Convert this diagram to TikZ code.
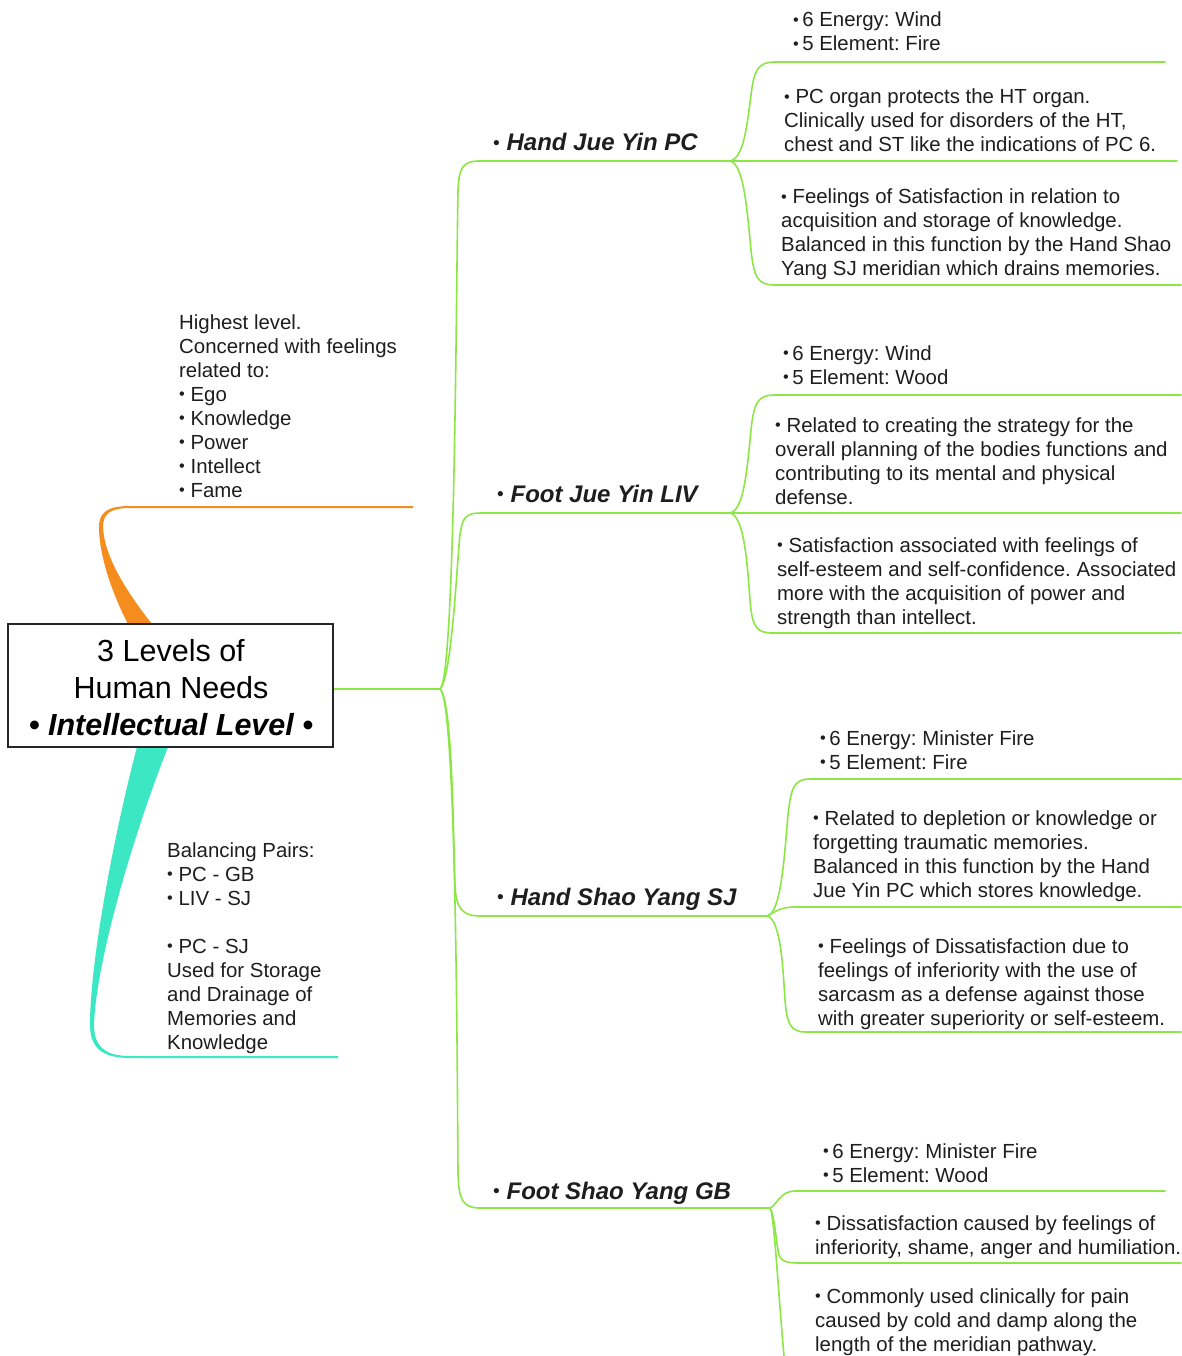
\documentclass[tikz,border=0pt]{standalone}
\usepackage{fontspec}
\usepackage{graphicx}
\setmainfont{Liberation Sans}
\frenchspacing
\definecolor{brgreen}{RGB}{140,230,70}
\definecolor{brorange}{RGB}{245,140,30}
\definecolor{brteal}{RGB}{60,232,195}
\definecolor{txt}{RGB}{30,30,30}
\newcommand{\mlines}[1]{\begin{tabular}[t]{@{}l@{}}#1\end{tabular}}
\newcommand{\clines}[1]{\begin{tabular}[t]{@{}c@{}}#1\end{tabular}}
\newcommand{\bul}{\raisebox{0.08em}{\scalebox{0.8}{•}}}
\begin{document}
\begin{tikzpicture}[x=1pt,y=-1pt,
  body/.style={anchor=base west, inner sep=0pt, text=txt, font=\fontsize{20.4}{24}\selectfont\frenchspacing},
  branchlabel/.style={anchor=base west, inner sep=0pt, text=txt, font=\fontsize{24}{28}\selectfont},
  gline/.style={draw=brgreen, line width=1.6pt, line cap=round},
  titlebox/.style={draw=black!85, line width=1.2pt, fill=white, minimum width=325pt, minimum height=123pt, inner sep=0pt},
  titletext/.style={anchor=base, inner sep=0pt, text=black, font=\fontsize{30.5}{37}\selectfont},
]
\useasboundingbox (0,0) rectangle (1181,1356);
\fill[white] (0,0) rectangle (1181,1356);

% ---------- coordinates ----------
\coordinate (hub) at (440,689);
\coordinate (boxR) at (333,689);
\coordinate (pcH) at (730,161);
\coordinate (livH) at (730,513);
\coordinate (sjH) at (767,916);
\coordinate (gbH) at (770,1208);
\coordinate (pcU) at (1165,62);
\coordinate (pcM) at (1177,161);
\coordinate (pcD) at (1181,285);
\coordinate (livU) at (1181,395);
\coordinate (livM) at (1181,513);
\coordinate (livD) at (1181,633);
\coordinate (sjU) at (1181,779);
\coordinate (sjM) at (1181,907);
\coordinate (sjD) at (1181,1032);
\coordinate (gbU) at (1165,1191);
\coordinate (gbM) at (1181,1263);
\coordinate (gbD) at (784,1356);

% ---------- coloured left branches ----------
\fill[brorange] (128,624) .. controls (108,585) and (99,550) .. (99,527)
  .. controls (99,512) and (108,506) .. (130,506) -- (413,506) -- (413,508) -- (130,508)
  .. controls (110,508) and (103,514) .. (103,527)
  .. controls (104,555) and (125,590) .. (152,624) -- cycle;
\fill[brteal] (137,747) .. controls (115,830) and (90,960) .. (90,1025)
  .. controls (90,1050) and (105,1058) .. (130,1058) -- (338,1058) -- (338,1056) -- (130,1056)
  .. controls (107,1056) and (94,1048) .. (94,1025)
  .. controls (96,960) and (135,830) .. (168,747) -- cycle;

% ---------- green trunk ----------
\draw[gline] (boxR) -- (hub);
\draw[gline] (hub) .. controls (455,678) and (456,300) .. (458,190) .. controls (459,167) and (463,161) .. (480,161) -- (pcH);
\draw[gline] (hub) .. controls (452,678) and (457,560) .. (460,535) .. controls (462,518) and (466,513) .. (480,513) -- (livH);
\draw[gline] (hub) .. controls (452,700) and (453,820) .. (455,885) .. controls (456,908) and (462,916) .. (480,916) -- (sjH);
\draw[gline] (hub) .. controls (455,700) and (457,1000) .. (458,1175) .. controls (459,1200) and (463,1208) .. (480,1208) -- (gbH);

% PC sub-branches
\draw[gline] (pcH) .. controls (744,158) and (747,125) .. (751,95) .. controls (754,70) and (758,62) .. (775,62) -- (pcU);
\draw[gline] (pcH) -- (pcM);
\draw[gline] (pcH) .. controls (744,164) and (747,210) .. (751,250) .. controls (754,278) and (758,285) .. (775,285) -- (pcD);
% LIV sub-branches
\draw[gline] (livH) .. controls (744,510) and (747,470) .. (751,430) .. controls (754,402) and (758,395) .. (775,395) -- (livU);
\draw[gline] (livH) -- (livM);
\draw[gline] (livH) .. controls (744,516) and (747,560) .. (750,600) .. controls (752,626) and (756,633) .. (772,633) -- (livD);
% SJ sub-branches
\draw[gline] (sjH) .. controls (781,913) and (784,860) .. (788,815) .. controls (791,786) and (795,779) .. (810,779) -- (sjU);
\draw[gline] (sjH) .. controls (775,912) and (780,907) .. (795,907) -- (sjM);
\draw[gline] (sjH) .. controls (781,919) and (783,970) .. (785,1000) .. controls (787,1025) and (791,1032) .. (806,1032) -- (sjD);
% GB sub-branches
\draw[gline] (gbH) .. controls (777,1205) and (780,1191) .. (795,1191) -- (gbU);
\draw[gline] (gbH) .. controls (774,1212) and (776,1240) .. (778,1250) .. controls (779,1260) and (784,1263) .. (798,1263) -- (gbM);
\draw[gline] (gbH) .. controls (774,1212) and (778,1290) .. (gbD);

% ---------- central box ----------
\node[titlebox] (box) at (170.5,685.5) {};
\node[titletext] (title) at (171,661) {\clines{3 Levels of\\Human Needs\\\textbf{\textit{• Intellectual Level •}}}};

% ---------- left texts ----------
\node[body] (highest) at (179,329) {\mlines{Highest level.\\Concerned with feelings\\related to:\\\bul\ Ego\\\bul\ Knowledge\\\bul\ Power\\\bul\ Intellect\\\bul\ Fame}};
\node[body] (pairs) at (167,857) {\mlines{Balancing Pairs:\\\bul\ PC - GB\\\bul\ LIV - SJ\\ \\\bul\ PC - SJ\\Used for Storage\\and Drainage of\\Memories and\\Knowledge}};

% ---------- branch labels ----------
\node[branchlabel] (pc) at (493,151) {\bul\ \textbf{\textit{Hand Jue Yin PC}}};
\node[branchlabel] (liv) at (497,502) {\bul\ \textbf{\textit{Foot Jue Yin LIV}}};
\node[branchlabel] (sj) at (497,905) {\bul\ \textbf{\textit{Hand Shao Yang SJ}}};
\node[branchlabel] (gb) at (493,1199) {\bul\ \textbf{\textit{Foot Shao Yang GB}}};

% ---------- PC texts ----------
\node[body] (pc1) at (793,27) {\mlines{\bul\,6 Energy: Wind\\\bul\,5 Element: Fire}};
\node[body] (pc2) at (784,104) {\mlines{\bul\ PC organ protects the HT organ.\\Clinically used for disorders of the HT,\\chest and ST like the indications of PC 6.}};
\node[body] (pc3) at (781,204) {\mlines{\bul\ Feelings of Satisfaction in relation to\\acquisition and storage of knowledge.\\Balanced in this function by the Hand Shao\\Yang SJ meridian which drains memories.}};

% ---------- LIV texts ----------
\node[body] (liv1) at (783,360) {\mlines{\bul\,6 Energy: Wind\\\bul\,5 Element: Wood}};
\node[body] (liv2) at (775,432) {\mlines{\bul\ Related to creating the strategy for the\\overall planning of the bodies functions and\\contributing to its mental and physical\\defense.}};
\node[body] (liv3) at (777,552) {\mlines{\bul\ Satisfaction associated with feelings of\\self-esteem and self-confidence. Associated\\more with the acquisition of power and\\strength than intellect.}};

% ---------- SJ texts ----------
\node[body] (sj1) at (820,745) {\mlines{\bul\,6 Energy: Minister Fire\\\bul\,5 Element: Fire}};
\node[body] (sj2) at (813,825) {\mlines{\bul\ Related to depletion or knowledge or\\forgetting traumatic memories.\\Balanced in this function by the Hand\\Jue Yin PC which stores knowledge.}};
\node[body] (sj3) at (818,953) {\mlines{\bul\ Feelings of Dissatisfaction due to\\feelings of inferiority with the use of\\sarcasm as a defense against those\\with greater superiority or self-esteem.}};

% ---------- GB texts ----------
\node[body] (gb1) at (823,1158) {\mlines{\bul\,6 Energy: Minister Fire\\\bul\,5 Element: Wood}};
\node[body] (gb2) at (815,1230) {\mlines{\bul\ Dissatisfaction caused by feelings of\\inferiority, shame, anger and humiliation.}};
\node[body] (gb3) at (815,1303) {\mlines{\bul\ Commonly used clinically for pain\\caused by cold and damp along the\\length of the meridian pathway.}};
\end{tikzpicture}
\end{document}
